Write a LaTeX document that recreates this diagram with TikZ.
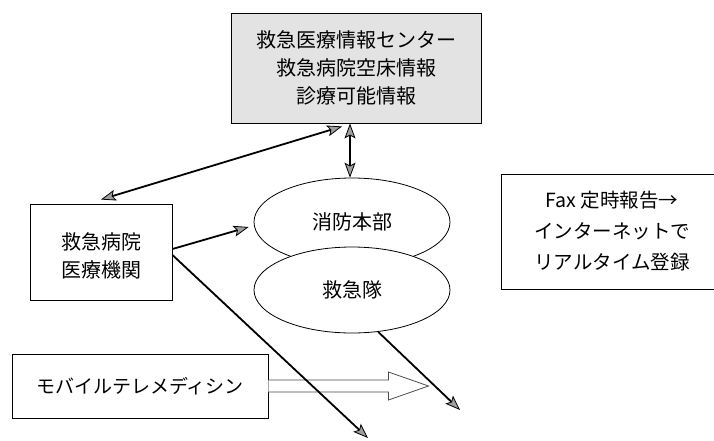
\documentclass[tikz,border=0pt]{standalone}
\usepackage{fontspec}
\setmainfont{Noto Sans CJK JP}
\usetikzlibrary{shapes.geometric,arrows.meta,calc}
\begin{document}
\begin{tikzpicture}[x=1pt,y=-1pt,
  box/.style={draw, line width=0.9pt, inner sep=0pt},
  txt/.style={font=\fontsize{20}{28}\selectfont, align=center, inner sep=0pt},
  oval/.style={ellipse, draw, line width=0.8pt, fill=white, minimum width=196pt, inner sep=0pt, font=\fontsize{20}{24}\selectfont},
  conn/.style={line width=1.8pt, -{Stealth[length=15pt,width=11pt,inset=3pt,fill=gray!75,line width=0.8pt]}},
  conn2/.style={line width=1.8pt, {Stealth[length=15pt,width=11pt,inset=3pt,fill=gray!75,line width=0.8pt]}-{Stealth[length=15pt,width=11pt,inset=3pt,fill=gray!75,line width=0.8pt]}},
  blockarrow/.style={draw=black!70, line width=0.8pt, fill=white}
]
\useasboundingbox (0,0) rectangle (714,440);
\fill[white] (0,0) rectangle (714,440);

% top information centre
\node[box, fill=gray!22, minimum width=250pt, minimum height=110pt, txt] (center) at (356,68)
  {救急医療情報センター\\救急病院空床情報\\診療可能情報};

% ellipses
\node[oval, minimum height=88pt] (fd) at (352,222) {消防本部};
\node[oval, minimum height=86pt] (amb) at (352,290) {救急隊};

% hospital box
\node[box, minimum width=142pt, minimum height=96pt] (hosp) at (101,252) {};
\node[txt] (hospt) at (101,256) {救急病院\\医療機関};

% right box (open at right edge)
\node[txt, font=\fontsize{19.5}{31}\selectfont] (fax) at (612,231) {Fax 定時報告→\\インターネットで\\リアルタイム登録};
\draw[line width=0.9pt] (714,174) -- (501,174) -- (501,289) -- (714,289);

% mobile telemedicine box
\node[box, minimum width=256pt, minimum height=64pt, txt, font=\fontsize{19}{24}\selectfont] (mob) at (140,386) {モバイルテレメディシン};

% block arrow
\draw[blockarrow] ($(mob.east)+(0,-6)$) -- ++(120,0) -- ++(0,-8) -- ++(40,14) -- ++(-40,14) -- ++(0,-8) -- ($(mob.east)+(0,6)$);

% free ends
\coordinate (e1) at (368,438);
\coordinate (e2) at (460,410);

% connectors
\draw[conn2] ([xshift=-6pt]center.south) -- ([xshift=-2pt]fd.north);
\draw[conn2] ([xshift=-14pt,yshift=-3pt]center.south) -- ([yshift=4pt]hosp.north);
\draw[conn] ([yshift=3pt]hosp.east) -- ([xshift=-5pt,yshift=-5pt]fd.west);
\draw[conn] ([yshift=-3pt]hosp.east) -- (e1);
\draw[conn] (amb.-58) -- (e2);
\end{tikzpicture}
\end{document}
